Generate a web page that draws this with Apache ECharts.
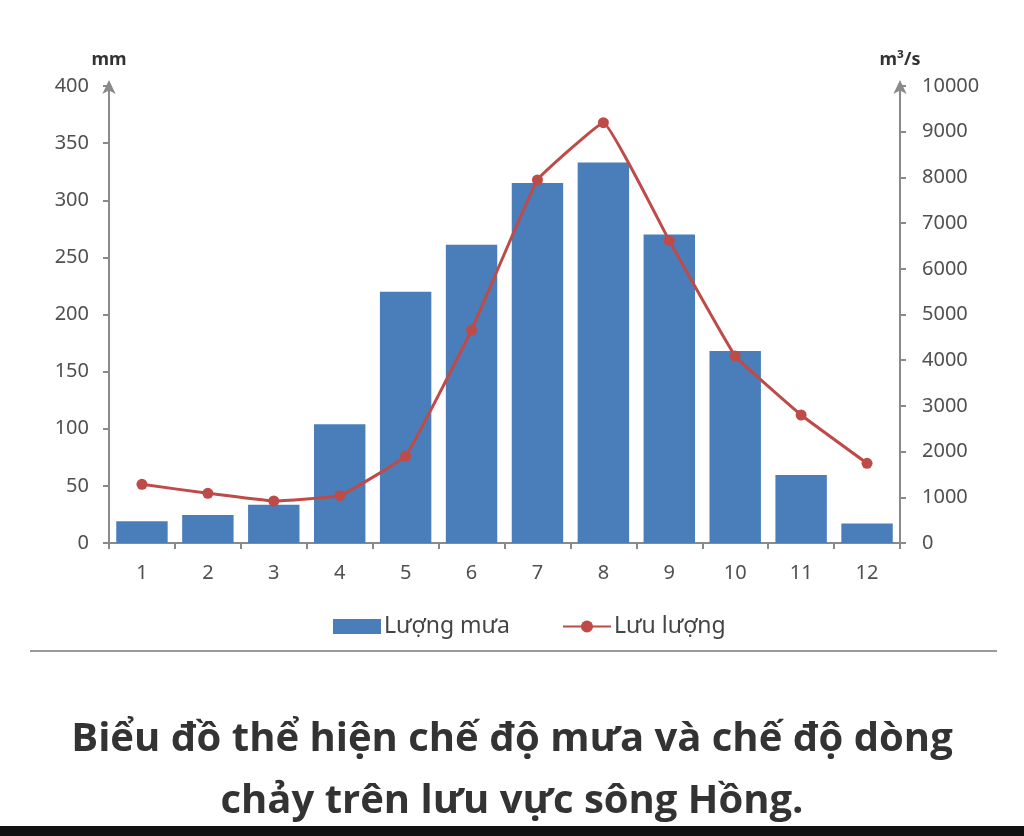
<!DOCTYPE html>
<html>
<head>
<meta charset="utf-8">
<script src="https://cdn.jsdelivr.net/npm/echarts@6/dist/echarts.min.js"></script>
<style>html,body{margin:0;padding:0;background:#fff}#c{width:1024px;height:836px}</style>
</head>
<body>
<div id="c"></div>
<script>
const months = ['1','2','3','4','5','6','7','8','9','10','11','12'];
const rainfall = [19, 24.5, 33.5, 104, 220, 261, 315, 333, 270, 168, 59.5, 17];
const discharge = [1284, 1087, 919, 1035, 1904, 4661, 7943, 9197, 6615, 4092, 2801, 1744];
const leftTicks = {min: 0, max: 400, interval: 50};
const rightTicks = {min: 0, max: 10000, interval: 1000};
const rainName = 'Lượng mưa';
const flowName = 'Lưu lượng';
const titleText = 'Biểu đồ thể hiện chế độ mưa và chế độ dòng\nchảy trên lưu vực sông Hồng.';

const axisColor = '#8a8a8a';
const labelColor = '#505050';
const font = 'Noto Sans';
const chart = echarts.init(document.getElementById('c'));
chart.setOption({
  backgroundColor: '#fff',
  animation: false,
  title: {
    text: titleText,
    left: 'center',
    top: 704,
    textStyle: {fontFamily: 'Open Sans', fontWeight: 'bold', fontSize: 40, lineHeight: 62, color: '#333'}
  },
  legend: {
    top: 610,
    left: 328,
    itemGap: 52,
    itemWidth: 48,
    itemHeight: 15,
    textStyle: {fontFamily: font, fontSize: 23, color: '#444', padding: [0, 0, 0, -2]},
    data: [{name: rainName, icon: 'rect'}, {name: flowName}]
  },
  grid: {left: 109, right: 124, top: 86, bottom: 293},
  xAxis: {
    type: 'category',
    data: months,
    boundaryGap: true,
    axisLine: {lineStyle: {color: axisColor, width: 2}},
    axisTick: {show: true, length: 6, lineStyle: {color: axisColor, width: 2}},
    axisLabel: {color: labelColor, fontFamily: font, fontSize: 20, margin: 20}
  },
  yAxis: [
    {
      type: 'value', min: leftTicks.min, max: leftTicks.max, interval: leftTicks.interval,
      name: 'mm', nameLocation: 'end', nameGap: 17,
      nameTextStyle: {fontFamily: font, fontWeight: 'bold', fontSize: 18, color: '#333'},
      axisLine: {show: true, symbol: ['none', 'arrow'], symbolSize: [10, 14], symbolOffset: [0, 6], lineStyle: {color: axisColor, width: 2}},
      axisTick: {show: true, length: 6, lineStyle: {color: axisColor, width: 2}},
      axisLabel: {color: labelColor, fontFamily: font, fontSize: 20, margin: 20},
      splitLine: {show: false}
    },
    {
      type: 'value', min: rightTicks.min, max: rightTicks.max, interval: rightTicks.interval,
      name: 'm³/s', nameLocation: 'end', nameGap: 17,
      nameTextStyle: {fontFamily: font, fontWeight: 'bold', fontSize: 18, color: '#333'},
      axisLine: {show: true, symbol: ['none', 'arrow'], symbolSize: [10, 14], symbolOffset: [0, 6], lineStyle: {color: axisColor, width: 2}},
      axisTick: {show: true, length: 6, lineStyle: {color: axisColor, width: 2}},
      axisLabel: {color: labelColor, fontFamily: font, fontSize: 20, margin: 22, formatter: (v) => String(v)},
      splitLine: {show: false}
    }
  ],
  series: [
    {
      name: rainName, type: 'bar', data: rainfall, yAxisIndex: 0,
      barCategoryGap: '22%',
      itemStyle: {color: '#4a7ebb'}
    },
    {
      name: flowName, type: 'line', data: discharge, yAxisIndex: 1,
      smooth: 0.08,
      symbol: 'circle', symbolSize: 11,
      lineStyle: {color: '#be4b48', width: 3},
      itemStyle: {color: '#be4b48'}
    }
  ],
  graphic: [
    {type: 'line', shape: {x1: 30, y1: 651, x2: 997, y2: 651}, style: {stroke: '#9a9a9a', lineWidth: 2}},
    {type: 'rect', shape: {x: 0, y: 826, width: 1024, height: 10}, style: {fill: '#111'}}
  ]
});
</script>
</body>
</html>
